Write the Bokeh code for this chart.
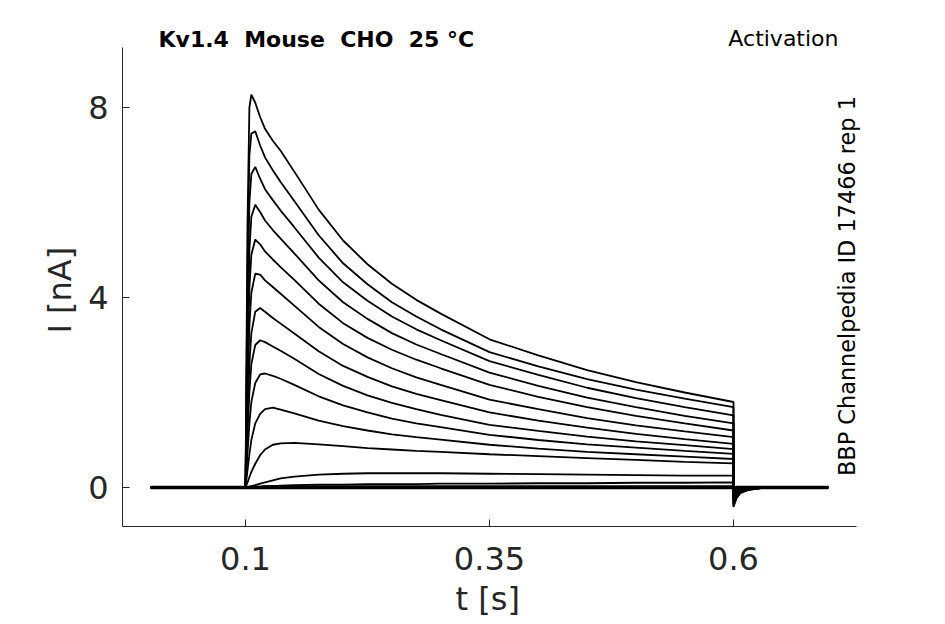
import math
from bokeh.plotting import figure
from bokeh.models import Range1d, FixedTicker, Label, Title
from bokeh.embed import file_html
from bokeh.resources import INLINE

# time samples [s] (0.6 appears twice: end of step and start of tail)
t_s = [0.003, 0.1, 0.102, 0.104, 0.106, 0.11, 0.115, 0.12, 0.128, 0.136,
       0.15, 0.175, 0.2, 0.225, 0.25, 0.275, 0.3, 0.35, 0.4, 0.45,
       0.5, 0.55, 0.6, 0.6, 0.603, 0.607, 0.615, 0.63, 0.697]

# currents [nA], one list per sweep
sweep_01 = [0, 0, 5.5, 8.0, 8.27, 8.1, 7.8, 7.55, 7.3, 7.09, 6.65, 5.85, 5.2, 4.7, 4.29, 3.95, 3.66, 3.12, 2.78, 2.47, 2.22, 2.0, 1.80, -0.41, -0.23, -0.12, -0.05, -0.01, 0]
sweep_02 = [0, 0, 4.5, 7.0, 7.45, 7.5, 7.2, 6.95, 6.68, 6.43, 6.03, 5.31, 4.72, 4.28, 3.90, 3.60, 3.33, 2.85, 2.55, 2.28, 2.06, 1.87, 1.69, -0.38, -0.21, -0.11, -0.05, -0.01, 0]
sweep_03 = [0, 0, 3.8, 6.0, 6.6, 6.75, 6.5, 6.28, 6.05, 5.83, 5.48, 4.84, 4.32, 3.93, 3.60, 3.33, 3.10, 2.66, 2.37, 2.10, 1.88, 1.69, 1.52, -0.35, -0.19, -0.10, -0.05, -0.01, 0]
sweep_04 = [0, 0, 3.0, 5.0, 5.7, 5.95, 5.8, 5.62, 5.42, 5.24, 4.93, 4.36, 3.90, 3.55, 3.25, 3.01, 2.81, 2.42, 2.14, 1.89, 1.69, 1.51, 1.35, -0.32, -0.18, -0.10, -0.04, -0.01, 0]
sweep_05 = [0, 0, 2.5, 4.2, 4.9, 5.22, 5.12, 4.97, 4.8, 4.64, 4.37, 3.87, 3.46, 3.15, 2.90, 2.69, 2.51, 2.16, 1.91, 1.69, 1.51, 1.35, 1.20, -0.29, -0.16, -0.09, -0.04, -0.01, 0]
sweep_06 = [0, 0, 2.0, 3.4, 4.1, 4.5, 4.48, 4.36, 4.22, 4.08, 3.83, 3.38, 3.02, 2.74, 2.51, 2.32, 2.16, 1.85, 1.65, 1.46, 1.31, 1.18, 1.06, -0.26, -0.14, -0.08, -0.03, -0.01, 0]
sweep_07 = [0, 0, 1.5, 2.6, 3.25, 3.7, 3.78, 3.7, 3.57, 3.45, 3.24, 2.87, 2.56, 2.33, 2.13, 1.97, 1.84, 1.58, 1.41, 1.26, 1.13, 1.02, 0.92, -0.23, -0.13, -0.07, -0.03, -0.01, 0]
sweep_08 = [0, 0, 1.1, 2.0, 2.6, 3.0, 3.1, 3.06, 2.97, 2.88, 2.71, 2.39, 2.14, 1.94, 1.78, 1.65, 1.53, 1.32, 1.19, 1.07, 0.97, 0.89, 0.81, -0.20, -0.11, -0.06, -0.03, -0.01, 0]
sweep_09 = [0, 0, 0.7, 1.35, 1.8, 2.2, 2.38, 2.4, 2.35, 2.29, 2.16, 1.92, 1.73, 1.58, 1.45, 1.35, 1.27, 1.11, 1.00, 0.91, 0.84, 0.77, 0.71, -0.17, -0.09, -0.05, -0.02, 0, 0]
sweep_10 = [0, 0, 0.35, 0.7, 1.0, 1.35, 1.55, 1.65, 1.68, 1.64, 1.56, 1.41, 1.29, 1.20, 1.12, 1.06, 1.01, 0.90, 0.82, 0.75, 0.70, 0.65, 0.60, -0.14, -0.08, -0.04, -0.02, 0, 0]
sweep_11 = [0, 0, 0.1, 0.22, 0.33, 0.5, 0.68, 0.8, 0.9, 0.93, 0.94, 0.91, 0.87, 0.83, 0.80, 0.77, 0.75, 0.70, 0.66, 0.62, 0.58, 0.54, 0.51, -0.10, -0.05, -0.03, -0.01, 0, 0]
sweep_12 = [0, 0, 0.01, 0.02, 0.03, 0.05, 0.08, 0.11, 0.15, 0.19, 0.23, 0.27, 0.29, 0.30, 0.30, 0.30, 0.30, 0.29, 0.28, 0.27, 0.26, 0.25, 0.25, -0.05, -0.03, -0.01, 0, 0, 0]
sweep_13 = [0.01, 0.01, 0.01, 0.01, 0.01, 0.02, 0.02, 0.03, 0.03, 0.04, 0.05, 0.06, 0.06, 0.07, 0.07, 0.07, 0.08, 0.08, 0.09, 0.09, 0.10, 0.10, 0.11, -0.02, -0.01, 0, 0, 0, 0.01]
sweep_14 = [0.02, 0.02, 0.02, 0.02, 0.02, 0.02, 0.02, 0.03, 0.03, 0.03, 0.03, 0.03, 0.03, 0.03, 0.03, 0.03, 0.03, 0.03, 0.03, 0.03, 0.03, 0.03, 0.03, 0.01, 0.02, 0.02, 0.02, 0.02, 0.02]
sweep_15 = [0, 0, 0, 0, 0, 0, 0, 0, 0, 0, 0, 0, 0, 0, 0, 0, 0, 0, 0, 0, 0, 0, 0, 0, 0, 0, 0, 0, 0]
sweep_16 = [-0.02, -0.02, -0.02, -0.02, -0.02, -0.02, -0.02, -0.02, -0.02, -0.02, -0.02, -0.02, -0.02, -0.02, -0.02, -0.02, -0.02, -0.02, -0.02, -0.02, -0.02, -0.02, -0.02, -0.02, -0.02, -0.02, -0.02, -0.02, -0.02]

sweeps = [sweep_01, sweep_02, sweep_03, sweep_04, sweep_05, sweep_06, sweep_07, sweep_08,
          sweep_09, sweep_10, sweep_11, sweep_12, sweep_13, sweep_14, sweep_15, sweep_16]

x_tick_values = [0.1, 0.35, 0.6]
x_tick_labels = ["0.1", "0.35", "0.6"]
y_tick_values = [0, 4, 8]

NB = "\u00a0"
title_text = "Kv1.4" + NB * 2 + "Mouse" + NB * 2 + "CHO" + NB * 2 + "25" + NB + "\u00b0C"
protocol_text = "Activation"
source_text = "BBP Channelpedia ID 17466 rep 1"
x_label = "t [s]"
y_label = "I [nA]"

FONT = "DejaVu Sans"
GREY = "#262626"

X_AXIS_SPAN = (-0.02602, 0.72603)
Y_AXIS_SPAN = (-0.821, 9.263)

p = figure(width=929, height=624,
           x_range=Range1d(-0.02602, 0.76087), y_range=Range1d(-0.821, 10.084),
           output_backend="svg", toolbar_location=None,
           min_border_left=122, min_border_right=39, min_border_top=8, min_border_bottom=98)
p.outline_line_color = None
p.background_fill_color = "white"
p.border_fill_color = "white"
p.xgrid.visible = False
p.ygrid.visible = False

for s in sweeps:
    p.line(t_s, s, line_color="black", line_width=1.8)

for ax in (p.xaxis[0], p.yaxis[0]):
    ax.axis_line_color = GREY
    ax.axis_line_width = 1
    ax.major_tick_line_color = GREY
    ax.major_tick_in = 7
    ax.major_tick_out = 0
    ax.minor_tick_in = 0
    ax.minor_tick_out = 0
    ax.major_label_text_font = FONT
    ax.major_label_text_font_size = "32px"
    ax.major_label_text_color = GREY

p.xaxis[0].bounds = X_AXIS_SPAN
p.xaxis[0].ticker = FixedTicker(ticks=x_tick_values)
p.xaxis[0].major_label_overrides = dict(zip(x_tick_values, x_tick_labels))
p.xaxis[0].major_label_standoff = 20

p.yaxis[0].bounds = Y_AXIS_SPAN
p.yaxis[0].ticker = FixedTicker(ticks=y_tick_values)
p.yaxis[0].major_label_standoff = 14

# axis titles placed along the axis spans (frame is wider than the axes)
p.add_layout(Title(text=x_label, align="left", offset=333, standoff=10,
                   text_font=FONT, text_font_size="32px", text_font_style="normal",
                   text_color=GREY), "below")
p.add_layout(Title(text=y_label, align="left", offset=193, standoff=13,
                   text_font=FONT, text_font_size="32px", text_font_style="normal",
                   text_color=GREY), "left")

p.add_layout(Label(x=0.01087, y=9.431, text=title_text, text_font=FONT,
                   text_font_size="22px", text_font_style="bold", text_color="black",
                   text_align="left", text_baseline="alphabetic"))
p.add_layout(Label(x=0.7076, y=9.452, text=protocol_text, text_font=FONT,
                   text_font_size="22px", text_color="black",
                   text_align="right", text_baseline="alphabetic"))
p.add_layout(Label(x=0.7168, y=0.242, text=source_text, text_font=FONT,
                   text_font_size="22.4px", text_color="black", angle=math.pi / 2,
                   text_align="left", text_baseline="alphabetic"))

open("out.html", "w").write(file_html(p, INLINE))
